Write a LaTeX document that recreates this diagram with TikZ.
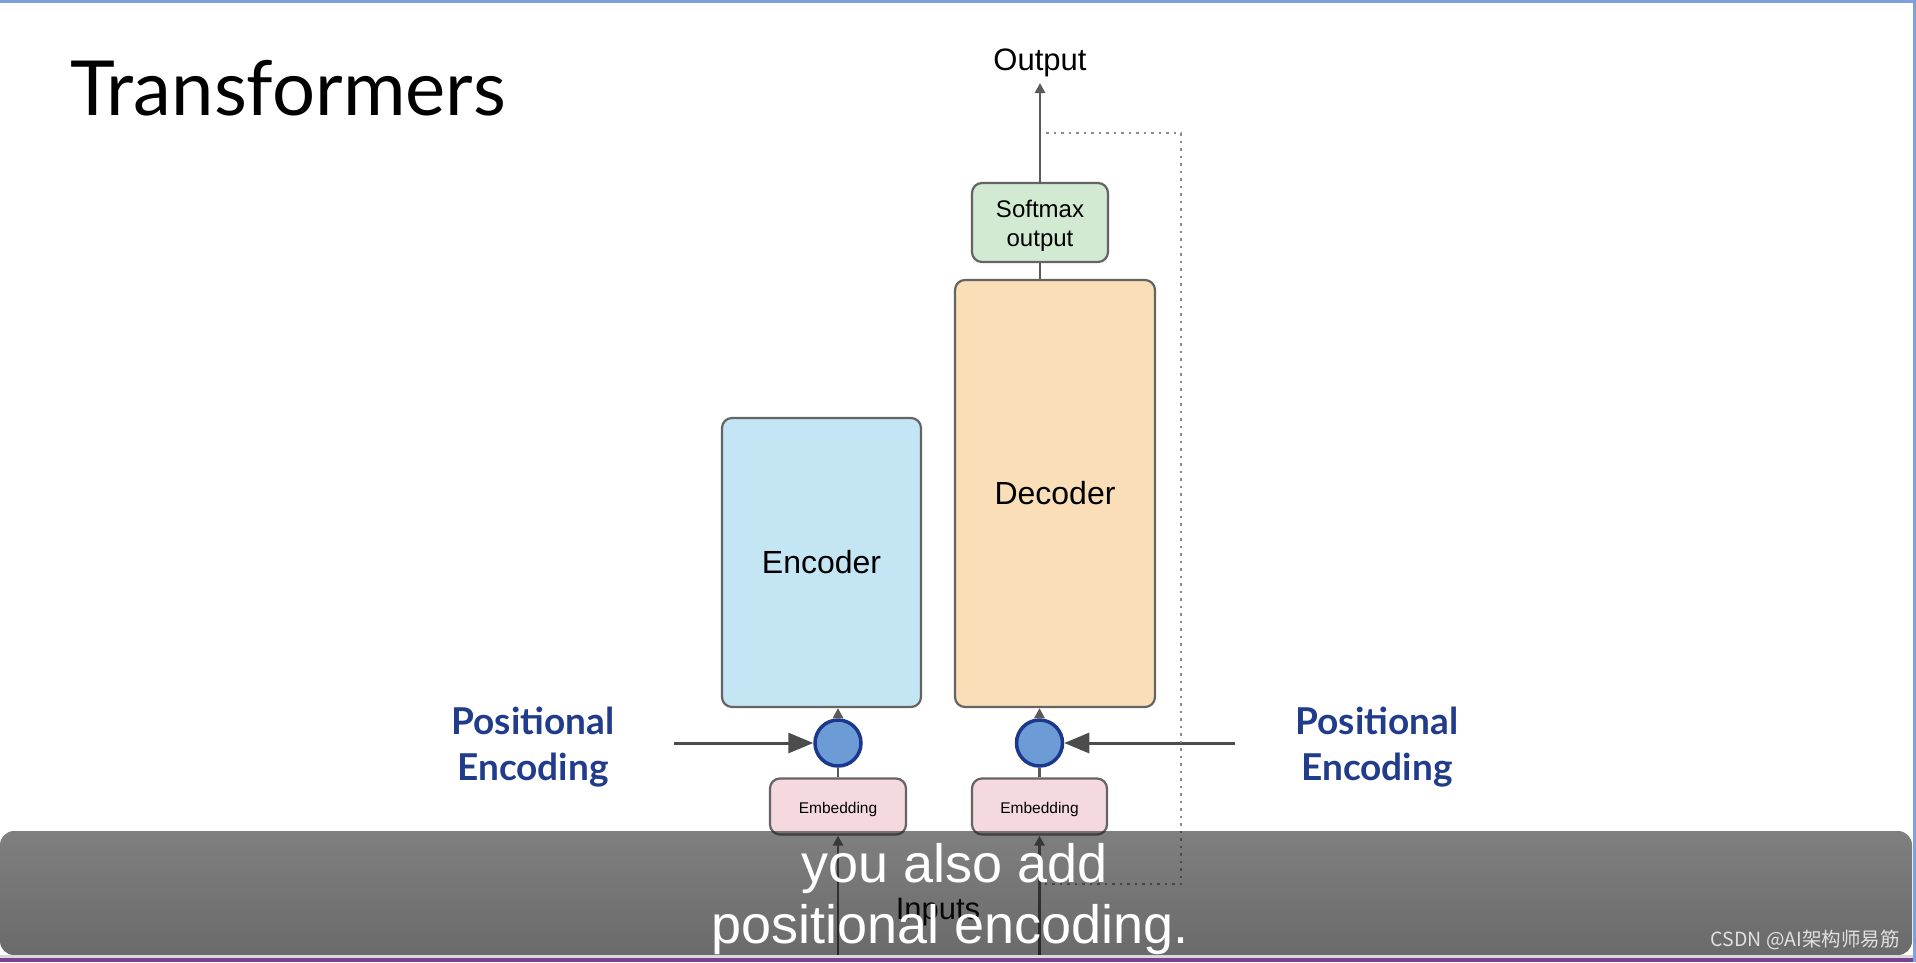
\documentclass[tikz,border=0pt]{standalone}
\usepackage{fontspec}
\setmainfont{Liberation Sans}
\newfontfamily\lato{Lato}
\newfontfamily\cjk{Noto Sans CJK SC}
\usetikzlibrary{arrows.meta}
\definecolor{smfill}{RGB}{210,234,209}
\definecolor{decfill}{RGB}{249,222,184}
\definecolor{encfill}{RGB}{196,229,244}
\definecolor{embfill}{RGB}{244,217,223}
\definecolor{boxline}{RGB}{100,100,100}
\definecolor{lineg}{RGB}{90,90,90}
\definecolor{navy}{RGB}{28,56,140}
\definecolor{circfill}{RGB}{108,155,214}
\definecolor{petext}{RGB}{33,60,138}
\definecolor{topblue}{RGB}{127,160,220}
\definecolor{botpurple}{RGB}{122,66,140}
\definecolor{dotg}{RGB}{140,140,140}
\newcommand{\lowr}[1]{\raisebox{-3pt}[\height][\depth]{#1}}
\begin{document}
\begin{tikzpicture}[x=1pt,y=-1pt,
  box/.style={draw=boxline, line width=2.2pt, rounded corners=10pt, inner sep=0pt, align=center},
  conn/.style={draw=lineg, line width=2.5pt},
  smalltip/.style={-{Triangle[length=10pt,width=10pt]}},
  pearrow/.style={draw=lineg!85!black, line width=3pt, -{Triangle[length=25pt,width=20pt]}},
  circ/.style={circle, draw=navy, line width=3.5pt, fill=circfill, minimum size=46pt, inner sep=0pt},
  petxt/.style={font=\lato\bfseries\fontsize{37}{46}\selectfont, text=petext, align=center},
  feedback/.style={draw=dotg, line width=2.5pt, dash pattern=on 2.5pt off 5pt}
]
\useasboundingbox (0,0) rectangle (1916,962);
\fill[white] (0,0) rectangle (1916,962);

% title
\node[anchor=base west, inner sep=0pt, font=\lato\fontsize{76}{84}\selectfont] (title) at (70,115) {Transformers};

% boxes
\node[box, fill=smfill, minimum width=136pt, minimum height=79pt, font=\fontsize{24}{29}\selectfont] (soft) at (1040,222.5) {\lowr{Softmax}\\\lowr{output}};
\node[box, fill=decfill, minimum width=200pt, minimum height=427pt, font=\fontsize{32}{36}\selectfont] (dec) at (1055,493.5) {Decoder};
\node[box, fill=encfill, minimum width=199pt, minimum height=289pt, font=\fontsize{32}{36}\selectfont] (enc) at (821.5,562.5) {Encoder};
\node[circ] (lc) at (838,743) {};
\node[circ] (rc) at (1039.5,743) {};
\node[box, fill=embfill, minimum width=136pt, minimum height=56pt, font=\fontsize{15.5}{18}\selectfont] (lemb) at (838,806.5) {\lowr{Embedding}};
\node[box, fill=embfill, minimum width=135pt, minimum height=56pt, font=\fontsize{15.5}{18}\selectfont] (remb) at (1039.5,806.5) {\lowr{Embedding}};

% texts
\node[font=\fontsize{31}{36}\selectfont, inner sep=0pt] (out) at (1040,63) {Output};
\node[font=\fontsize{31}{36}\selectfont, inner sep=0pt] (inp) at (938,912) {Inputs};
\node[petxt] (lpe) at (533,747) {Positional\\Encoding};
\node[petxt] (rpe) at (1377,747) {Positional\\Encoding};

% coordinates
\coordinate (outtip) at (1040,83);
\coordinate (lbot) at (838,958);
\coordinate (rbot) at (1039.5,958);
\coordinate (lpes) at (674,743);
\coordinate (rpes) at (1235,743);
\coordinate (fb1) at (1046,133);
\coordinate (fb2) at (1181,133);
\coordinate (fb3) at (1181,884);
\coordinate (fb4) at (1040,884);

% connectors
\draw[conn, smalltip] (soft.north) -- (outtip);
\draw[conn] (soft.south) -- (soft.south |- dec.north);
\draw[conn, smalltip] (lc.north) -- (lc.north |- enc.south);
\draw[conn, smalltip] (rc.north) -- (rc.north |- dec.south);
\draw[conn] (lemb.north) -- (lc.south);
\draw[conn] (remb.north) -- (rc.south);
\draw[conn, smalltip] (lbot) -- (lemb.south);
\draw[conn, smalltip] (rbot) -- (remb.south);
\draw[pearrow] (lpes) -- (lc.west);
\draw[pearrow] (rpes) -- (rc.east);
\draw[feedback] (fb1) -- (fb2) -- (fb3) -- (fb4);

% subtitle overlay
\shade[rounded corners=14pt, top color=black!86, bottom color=black, fill opacity=0.58] (0,831) rectangle (1912,955);
\node[anchor=base, text=white, font=\fontsize{54}{60}\selectfont, inner sep=0pt] (sub1) at (955,882) {you also add};
\node[anchor=base, text=white, font=\fontsize{54}{60}\selectfont, inner sep=0pt] (sub2) at (950,943) {positional encoding.};
\node[anchor=base east, text=black!12, font=\cjk\fontsize{19.5}{21}\selectfont, inner sep=0pt] (wm) at (1900,946) {CSDN @AI架构师易筋};

% window frame
\fill[black!15] (0,955) rectangle (1916,958);
\fill[botpurple] (0,958) rectangle (1916,962);
\fill[topblue] (0,0) rectangle (1916,2.5);
\fill[topblue] (1913,0) rectangle (1916,962);
\end{tikzpicture}
\end{document}
